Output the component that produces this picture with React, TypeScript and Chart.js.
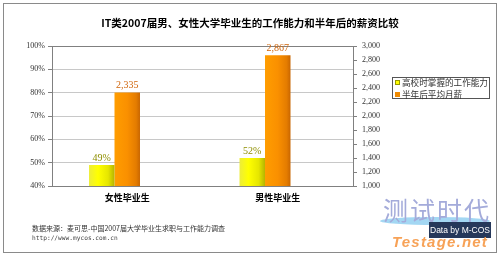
import React, { useEffect, useRef } from 'react';
import { Chart, registerables } from 'chart.js';

Chart.register(...registerables);

const TITLE = 'IT类2007届男、女性大学毕业生的工作能力和半年后的薪资比较';
const categories = ['女性毕业生', '男性毕业生'];
const seriesNames = ['高校时掌握的工作能力', '半年后平均月薪'];
const abilityPct = [49, 52];
const salary = [2335, 2867];
const leftAxis = { min: 40, max: 100, step: 10 };
const rightAxis = { min: 1000, max: 3000, step: 200 };
const footerLines = ['数据来源：麦可思-中国2007届大学毕业生求职与工作能力调查', 'http://www.mycos.com.cn'];

const gradientPlugin = {
  id: 'barGradient',
  beforeDatasetsDraw(chart: any) {
    const ctx = chart.ctx;
    [0, 1].forEach((di) => {
      const meta = chart.getDatasetMeta(di);
      meta.data.forEach((el: any) => {
        const { x, width } = el.getProps(['x', 'width'], true);
        const g = ctx.createLinearGradient(x - width / 2, 0, x + width / 2, 0);
        if (di === 0) {
          g.addColorStop(0, '#EDED3A');
          g.addColorStop(0.35, '#FFFF00');
          g.addColorStop(0.75, '#E6E600');
          g.addColorStop(1, '#B5B500');
        } else {
          g.addColorStop(0, '#FF9D00');
          g.addColorStop(0.5, '#FA9000');
          g.addColorStop(0.85, '#E47C00');
          g.addColorStop(1, '#C96600');
        }
        el.options = Object.assign({}, el.options, { backgroundColor: g });
      });
    });
  },
};

const labelPlugin = {
  id: 'valueLabels',
  afterDatasetsDraw(chart: any) {
    const ctx = chart.ctx;
    ctx.save();
    ctx.font = '10px "Liberation Serif", serif';
    ctx.textAlign = 'center';
    ctx.textBaseline = 'middle';
    [0, 1].forEach((di) => {
      const meta = chart.getDatasetMeta(di);
      const data = chart.data.datasets[di].data;
      meta.data.forEach((el: any, i: number) => {
        const { x, y } = el.getProps(['x', 'y'], true);
        const v = data[i] as number;
        ctx.fillStyle = di === 0 ? '#8F8F00' : '#D0650A';
        const txt = di === 0 ? v + '%' : v.toLocaleString('en-US');
        ctx.fillText(txt, x, y - 7);
      });
    });
    ctx.restore();
  },
};

export default function App() {
  const ref = useRef<HTMLCanvasElement>(null);

  useEffect(() => {
    if (!ref.current) return;
    const tickFont = { family: '"Liberation Serif", serif', size: 8 };
    const chart = new Chart(ref.current, {
      type: 'bar',
      data: {
        labels: categories,
        datasets: [
          { label: seriesNames[0], data: abilityPct, yAxisID: 'y', backgroundColor: '#FFFF00', borderWidth: 0 },
          { label: seriesNames[1], data: salary, yAxisID: 'y2', backgroundColor: '#FF9900', borderWidth: 0 },
          { label: '', data: [null, null], yAxisID: 'y', backgroundColor: 'rgba(0,0,0,0)', borderWidth: 0 },
        ],
      },
      options: {
        animation: false,
        responsive: false,
        maintainAspectRatio: false,
        events: [],
        layout: { padding: 0 },
        datasets: { bar: { categoryPercentage: 0.508, barPercentage: 1 } },
        plugins: {
          legend: { display: false },
          tooltip: { enabled: false },
          title: {
            display: true,
            text: TITLE,
            color: '#000',
            font: { family: '"Noto Sans CJK SC", sans-serif', size: 10.5, weight: 'bold' },
            padding: { top: 17, bottom: 16.4 },
          },
        },
        scales: {
          x: {
            grid: { display: false, drawTicks: false },
            border: { display: true, color: '#808080' },
            ticks: {
              color: '#000',
              font: { family: '"Noto Sans CJK SC", sans-serif', size: 9, weight: 'bold' },
              padding: 6,
            },
            afterFit: (s: any) => {
              s.height = 70;
            },
          },
          y: {
            position: 'left',
            min: leftAxis.min,
            max: leftAxis.max,
            ticks: {
              stepSize: leftAxis.step,
              callback: (v: any) => v + '%',
              color: '#333',
              font: tickFont,
              padding: 3,
            },
            grid: {
              color: (c: any) => (c.tick && c.tick.value === leftAxis.max ? '#808080' : '#C8C8C8'),
              tickColor: '#808080',
              tickLength: 4,
            },
            border: { display: true, color: '#808080' },
            afterFit: (s: any) => {
              s.width = 52;
            },
          },
          y2: {
            position: 'right',
            min: rightAxis.min,
            max: rightAxis.max,
            ticks: {
              stepSize: rightAxis.step,
              callback: (v: any) => Number(v).toLocaleString('en-US'),
              color: '#333',
              font: tickFont,
              padding: 5,
            },
            grid: { drawOnChartArea: false, tickColor: '#808080', tickLength: 4 },
            border: { display: true, color: '#808080' },
            afterFit: (s: any) => {
              s.width = 147;
            },
          },
        },
      } as any,
      plugins: [gradientPlugin, labelPlugin],
    });
    return () => chart.destroy();
  }, []);

  const cjk = '"Noto Sans CJK SC", sans-serif';

  return (
    <div style={{ position: 'absolute', left: 0, top: 0, width: 500, height: 256, background: '#fff', overflow: 'hidden' }}>
      <canvas ref={ref} width={500} height={256} style={{ position: 'absolute', left: 0, top: 0, width: 500, height: 256 }} />
      <div style={{ position: 'absolute', left: 3, top: 3, width: 494, height: 250, border: '1px solid #8a8a8a', boxSizing: 'border-box', pointerEvents: 'none' }} />
      {/* legend */}
      <div style={{ position: 'absolute', left: 392, top: 77, width: 98, height: 22, border: '1px solid #555', boxSizing: 'border-box', background: '#fff' }} />
      <div style={{ position: 'absolute', left: 395, top: 80, width: 5, height: 5, background: '#FFFF00', border: '0.5px solid #999900', boxSizing: 'border-box' }} />
      <div style={{ position: 'absolute', left: 395, top: 92, width: 5, height: 5, background: '#F08A00', boxSizing: 'border-box' }} />
      <div style={{ position: 'absolute', left: 402, top: 77, height: 10, lineHeight: '10px', fontFamily: cjk, fontSize: 8.6, color: '#333', whiteSpace: 'nowrap' }}>{seriesNames[0]}</div>
      <div style={{ position: 'absolute', left: 402, top: 89, height: 10, lineHeight: '10px', fontFamily: cjk, fontSize: 8.6, color: '#333', whiteSpace: 'nowrap' }}>{seriesNames[1]}</div>
      {/* footer */}
      <div style={{ position: 'absolute', left: 32, top: 223.5, lineHeight: '9px', fontFamily: cjk, fontSize: 7, color: '#333', whiteSpace: 'nowrap' }}>{footerLines[0]}</div>
      <div style={{ position: 'absolute', left: 32, top: 232.5, lineHeight: '9px', fontFamily: '"DejaVu Sans Mono", monospace', fontSize: 6.2, color: '#444', whiteSpace: 'nowrap' }}>{footerLines[1]}</div>
      {/* watermark */}
      <div style={{ position: 'absolute', left: 380, top: 217, width: 110, height: 8, borderRadius: '50%', background: '#8CCDF0', opacity: 0.8 }} />
      <div style={{ position: 'absolute', left: 383, top: 194, lineHeight: '30px', fontFamily: cjk, fontSize: 25, color: '#A4ABDA', letterSpacing: 2, whiteSpace: 'nowrap' }}>测试时代</div>
      <div style={{ position: 'absolute', left: 429, top: 222, width: 62, height: 16, background: '#26385A', color: '#fff', fontFamily: '"Liberation Sans", sans-serif', fontSize: 8.5, lineHeight: '16px', textAlign: 'center', whiteSpace: 'nowrap' }}>Data by M-COS</div>
      <div style={{ position: 'absolute', left: 392, top: 234, lineHeight: '16px', fontFamily: '"Liberation Sans", sans-serif', fontWeight: 'bold', fontStyle: 'italic', fontSize: 15, letterSpacing: 1.2, color: '#F7A257', whiteSpace: 'nowrap' }}>Testage.net</div>
    </div>
  );
}
